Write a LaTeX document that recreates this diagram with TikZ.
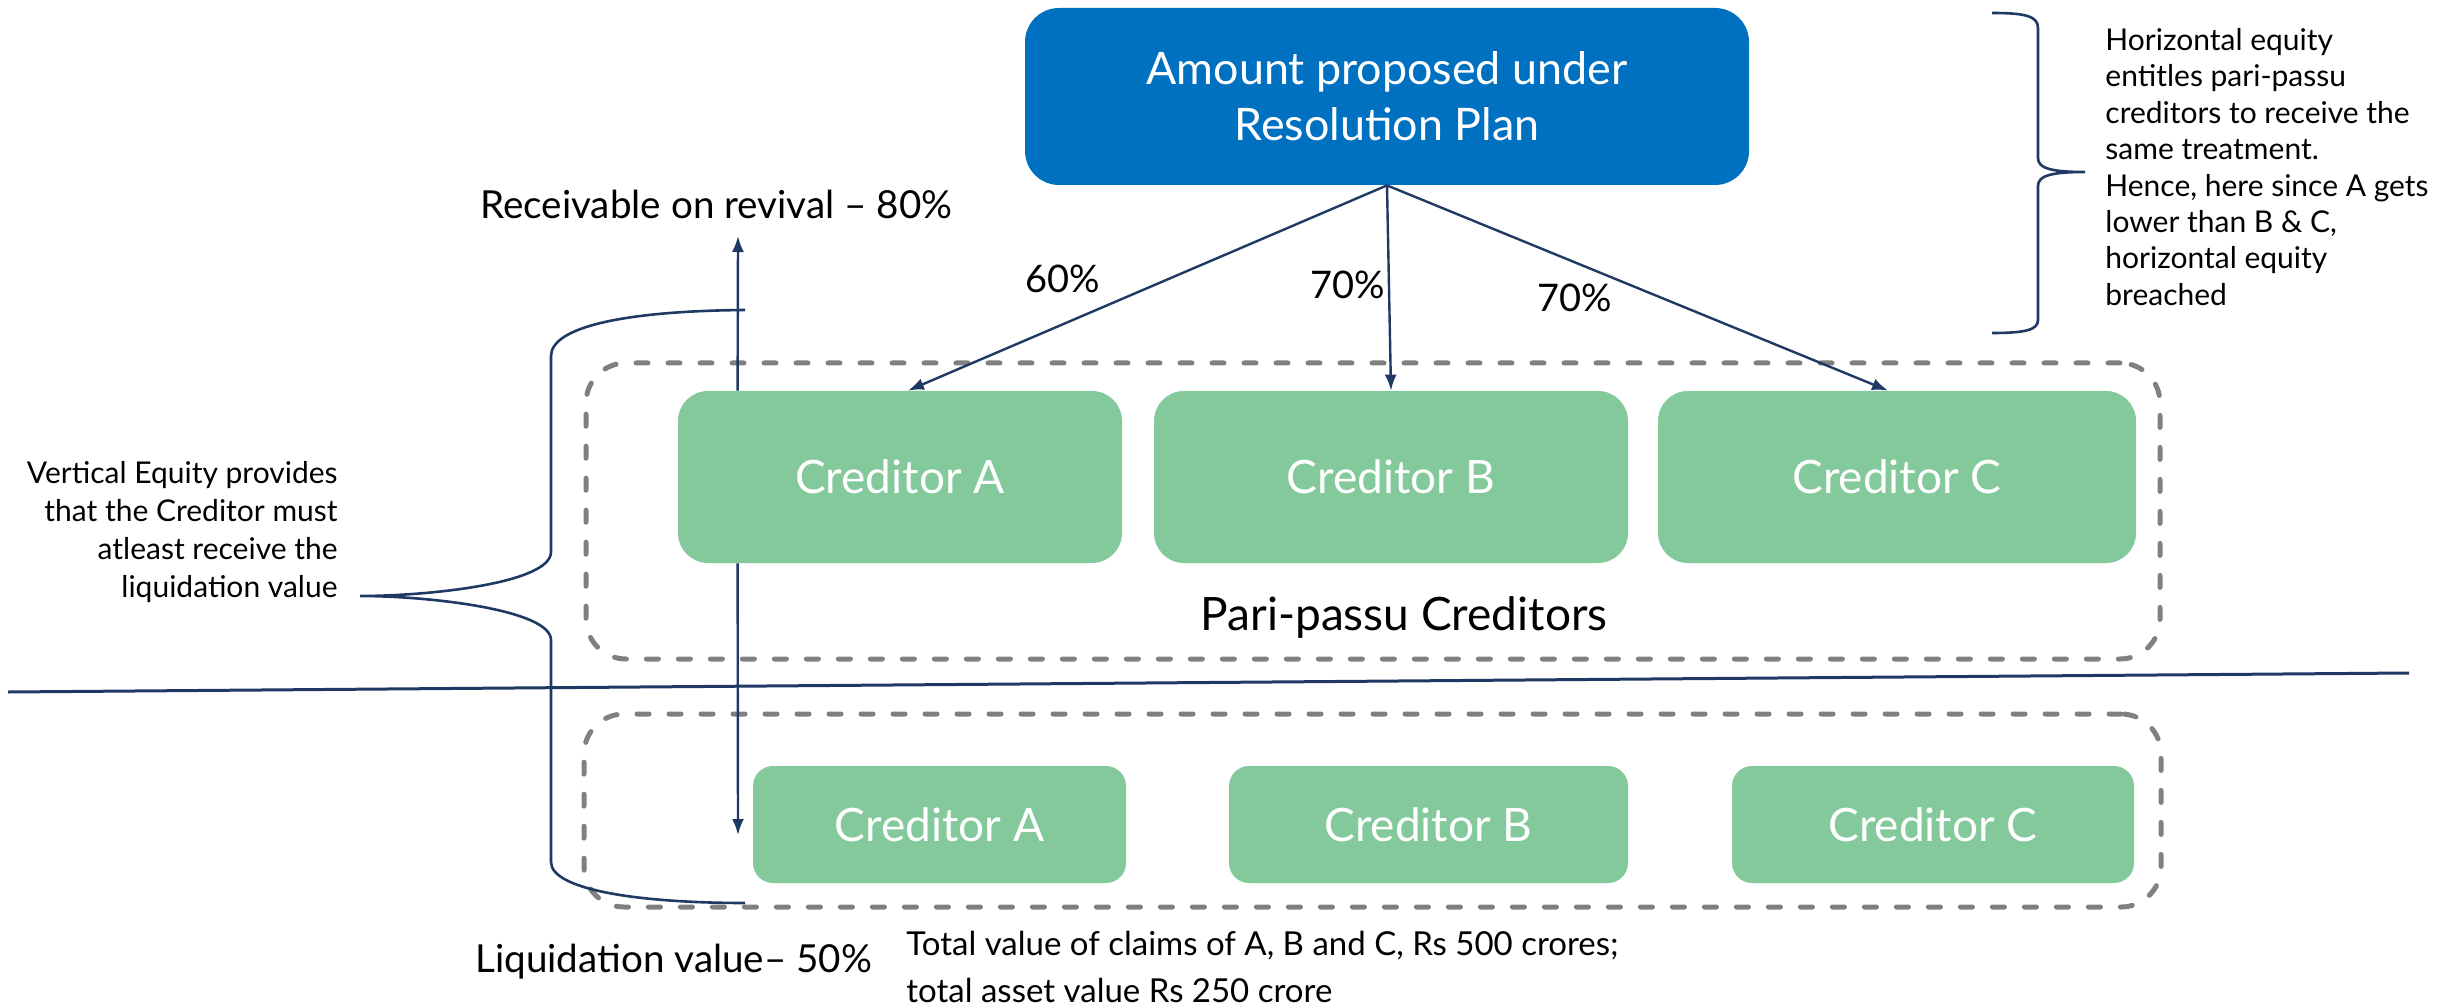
\documentclass[tikz,border=0pt]{standalone}
\usepackage{fontspec}
\setmainfont{Lato}
\usetikzlibrary{arrows.meta,calc}
\definecolor{planblue}{HTML}{0070C0}
\definecolor{credgreen}{HTML}{84C99C}
\definecolor{navy}{HTML}{1F3864}
\definecolor{dashgray}{HTML}{808080}

\begin{document}
\begin{tikzpicture}[x=0.5pt,y=-0.5pt,
  planbox/.style={fill=planblue, rounded corners=17pt, minimum width=362pt, minimum height=88.5pt,
    text=white, font=\fontsize{22.4}{28}\selectfont, align=center, inner sep=0pt},
  bigcred/.style={fill=credgreen, rounded corners=15pt, minimum height=86pt, text=white,
    font=\fontsize{23}{28}\selectfont, inner sep=0pt},
  smallcred/.style={fill=credgreen, rounded corners=10pt, minimum height=58.5pt, text=white,
    font=\fontsize{23}{28}\selectfont, inner sep=0pt},
  group/.style={draw=dashgray, line width=2.5pt, dash pattern=on 6pt off 10pt, line cap=round,
    rounded corners=20pt, inner sep=0pt},
  link/.style={draw=navy, line width=1.2pt, -{Latex[length=8pt,width=6pt]}},
  brace/.style={draw=navy, line width=1.3pt},
  pct/.style={font=\fontsize{19}{23}\selectfont, inner sep=0pt},
  note/.style={font=\fontsize{15}{18.2}\selectfont, inner sep=0pt},
  label/.style={font=\fontsize{19.3}{24}\selectfont, inner sep=0pt},
]
\useasboundingbox (0,0) rectangle (2445,1005);

% dashed groups
\node[group, minimum width=787pt, minimum height=148pt] (upgroup) at (1373,511) {};
\node[group, minimum width=788.5pt, minimum height=96.5pt] (lowgroup) at (1372.5,810.5) {};

% resolution plan
\node[planbox] (plan) at (1387,96.5) {Amount proposed under\\Resolution Plan};

% pari-passu creditors under the plan
\node[bigcred, minimum width=222pt] (ua) at (900,477) {Creditor A};
\node[bigcred, minimum width=237pt] (ub) at (1391,477) {Creditor B};
\node[bigcred, minimum width=239pt] (uc) at (1897,477) {Creditor C};
\node[font=\fontsize{23}{28}\selectfont, inner sep=0pt, anchor=base] (pplabel) at (1404,630) {Pari-passu Creditors};

% creditors in liquidation
\node[smallcred, minimum width=186.5pt] (la) at (939.5,824.5) {Creditor A};
\node[smallcred, minimum width=199.5pt] (lb) at (1428.5,824.5) {Creditor B};
\node[smallcred, minimum width=201pt] (lc) at (1933,824.5) {Creditor C};

% distribution arrows
\draw[link] (plan.south) -- ([xshift=4pt]ua.north);
\draw[link] (plan.south) -- (ub.north);
\draw[link] (plan.south) -- ([xshift=-4.5pt]uc.north);
\node[pct] (pa) at (1063,279) {60\%};
\node[pct] (pb) at (1348,285) {70\%};
\node[pct] (pc) at (1575,298) {70\%};

% revival / liquidation values for creditor A
\coordinate (revtip) at (738,236);
\coordinate (liqtip) at (738,835);
\draw[link] ([xshift=30pt]ua.north west) -- (revtip);
\draw[link] ([xshift=30pt]ua.south west) -- (liqtip);
\node[label, anchor=base west] (revlabel) at (480,219) {Receivable on revival – 80\%};
\node[label, anchor=base west] (liqlabel) at (475,972) {Liquidation value– 50\%};
\node[font=\fontsize{16.5}{23.5}\selectfont, inner sep=0pt, anchor=north west, align=left] (claims)
  at (906,931) {Total value of claims of A, B and C, Rs 500 crores;\\total asset value Rs 250 crore};

% divider
\coordinate (divl) at (8,692);
\coordinate (divr) at (2409,673);
\draw[navy, line width=1.5pt] (divl) -- (divr);

% vertical equity brace
\draw[brace] (745,310) .. controls (620,311) and (551,328) .. (551,356) -- (551,552)
  .. controls (551,583) and (430,596) .. (360,596)
  .. controls (430,596) and (551,610) .. (551,640) -- (551,862)
  .. controls (551,890) and (640,903) .. (745,903);
\node[note, anchor=north east, align=right, font=\fontsize{15}{19}\selectfont] (vnote) at (338,461)
  {Vertical Equity provides\\that the Creditor must\\atleast receive the\\liquidation value};

% horizontal equity brace
\draw[brace] (1992,13) .. controls (2025,13) and (2038,16) .. (2038,28) -- (2038,158)
  .. controls (2038,168) and (2050,172) .. (2085,172)
  .. controls (2050,172) and (2038,176) .. (2038,186) -- (2038,320)
  .. controls (2038,330) and (2025,333) .. (1992,333);
\node[note, anchor=north west, align=left] (hnote) at (2105,28)
  {Horizontal equity\\entitles pari-passu\\creditors to receive the\\same treatment.\\Hence, here since A gets\\lower than B \& C,\\horizontal equity\\breached};
\end{tikzpicture}
\end{document}
